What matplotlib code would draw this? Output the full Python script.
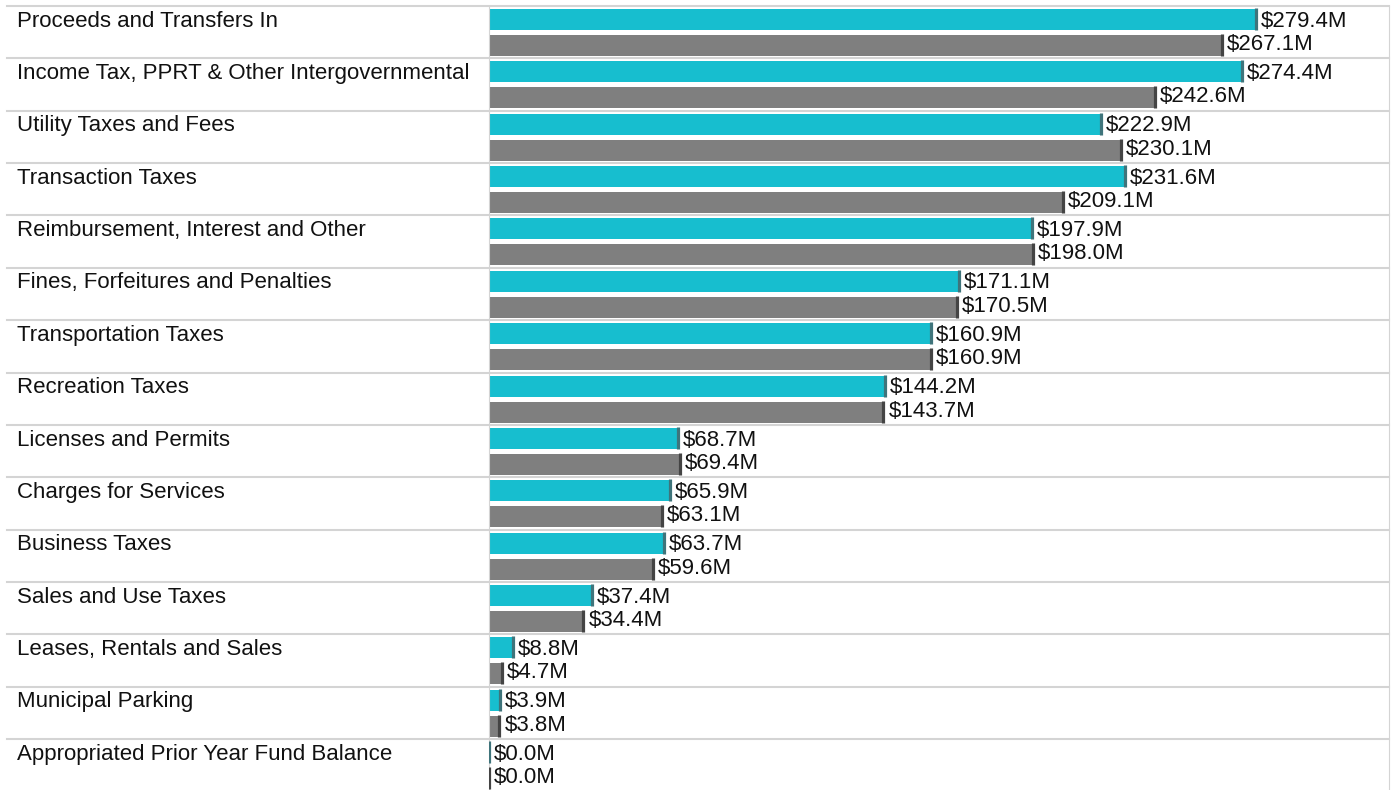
import matplotlib.pyplot as plt

categories = [
    "Proceeds and Transfers In",
    "Income Tax, PPRT & Other Intergovernmental",
    "Utility Taxes and Fees",
    "Transaction Taxes",
    "Reimbursement, Interest and Other",
    "Fines, Forfeitures and Penalties",
    "Transportation Taxes",
    "Recreation Taxes",
    "Licenses and Permits",
    "Charges for Services",
    "Business Taxes",
    "Sales and Use Taxes",
    "Leases, Rentals and Sales",
    "Municipal Parking",
    "Appropriated Prior Year Fund Balance",
]
current = [279.4, 274.4, 222.9, 231.6, 197.9, 171.1, 160.9, 144.2, 68.7, 65.9, 63.7, 37.4, 8.8, 3.9, 0.0]
previous = [267.1, 242.6, 230.1, 209.1, 198.0, 170.5, 160.9, 143.7, 69.4, 63.1, 59.6, 34.4, 4.7, 3.8, 0.0]

plt.rcParams['font.family'] = ['Liberation Sans', 'DejaVu Sans']

W, H = 1392, 790
fig = plt.figure(figsize=(W / 100, H / 100), dpi=100)
row_h = 52.36
top_px = 6
ax_left = 489 / W
ax_right = 1389 / W
ax_bottom = 1 - (top_px + 15 * row_h) / H
ax_top = 1 - top_px / H
ax = fig.add_axes([ax_left, ax_bottom, ax_right - ax_left, ax_top - ax_bottom])

px_per_unit = 2.745
ax.set_xlim(0, 900 / px_per_unit)
ax.set_ylim(15, 0)

cyan = "#17becf"
grey = "#7f7f7f"
bh = 0.40
off1, off2 = 0.258, 0.755
base1, base2 = 0.395, 0.84   # text baselines within a row
fs = 16

for i, (c, p) in enumerate(zip(current, previous)):
    y1 = i + off1
    y2 = i + off2
    ax.barh(y1, c, height=bh, color=cyan, zorder=2)
    ax.barh(y2, p, height=bh, color=grey, zorder=2)
    ax.vlines(c, y1 - bh / 2 - 0.02, y1 + bh / 2, color="#3f747b", linewidth=2.3, zorder=3)
    ax.vlines(p, y2 - bh / 2 - 0.02, y2 + bh / 2, color="#444444", linewidth=2.3, zorder=3)
    ax.annotate(f"${c:.1f}M", (c, i + base1), xytext=(5, 0), textcoords="offset pixels",
                va="baseline", ha="left", fontsize=fs, color="#111111")
    ax.annotate(f"${p:.1f}M", (p, i + base2), xytext=(5, 0), textcoords="offset pixels",
                va="baseline", ha="left", fontsize=fs, color="#111111")
    # category label in the left column
    ax.annotate(categories[i], (0, i + base1), xycoords=("axes fraction", "data"),
                xytext=(17 - 489, 0), textcoords="offset pixels",
                va="baseline", ha="left", fontsize=fs, color="#111111")

# row separators across the whole width
for i in range(15):
    ax.plot([-(489 - 7) / 900, 1], [i, i], transform=ax.get_yaxis_transform(),
            color="#d4d4d4", linewidth=1.5, clip_on=False, zorder=1)

for s in ["top", "bottom"]:
    ax.spines[s].set_visible(False)
ax.spines["left"].set_color("#d4d4d4")
ax.spines["right"].set_color("#d4d4d4")
ax.set_xticks([])
ax.set_yticks([])

fig.savefig("out.png", dpi=100)
